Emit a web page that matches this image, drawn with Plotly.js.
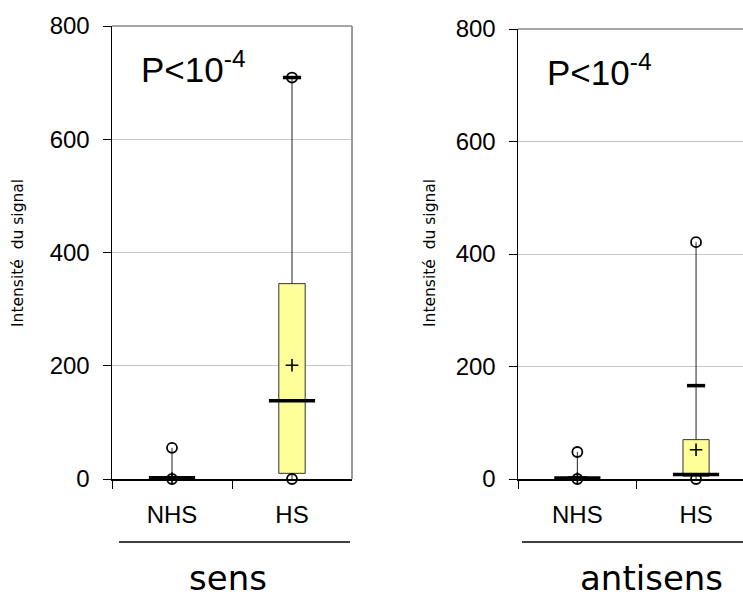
<!DOCTYPE html>
<html>
<head>
<meta charset="utf-8">
<script src="https://cdn.plot.ly/plotly-3.0.1.min.js"></script>
<style>html,body{margin:0;padding:0;background:#fff;}#chart{width:743px;height:596px;}</style>
</head>
<body>
<div id="chart"></div>
<script>
// ---- data ----
const categories = ['NHS', 'HS'];

// panel "sens"
const sensMin = [0, 0];
const sensQ1 = [0, 10];
const sensMedian = [2, 138];
const sensQ3 = [3, 345];
const sensMean = [1, 201];
const sensWhiskerHigh = [2, 709];
const sensMax = [55, 709];

// panel "antisens"
const antiMin = [0, 0];
const antiQ1 = [0, 5];
const antiMedian = [2, 8];
const antiQ3 = [3, 70];
const antiMean = [1, 52];
const antiWhiskerHigh = [2, 166];
const antiMax = [48, 421];

const yTicks = [0, 200, 400, 600, 800];
const panelTitles = ['sens', 'antisens'];
const pText = 'P<10<sup>-4</sup>';
const yTitle = 'Intensité\u00a0\u00a0du signal';

// ---- build ----
const W = 743, H = 596;
const tickFont = {family: 'Arial, "Liberation Sans", sans-serif', size: 24, color: '#000'};
const verd = '"DejaVu Sans", Verdana, sans-serif';

function panelTraces(mn, q1, med, q3, mean, wh, mx, xa, ya) {
  const segX = [], segY = [];
  categories.forEach((c, i) => {
    segX.push(c, c, null, c, c, null);
    segY.push(mn[i], q1[i], null, q3[i], mx[i], null);
  });
  return [
    {type: 'bar', x: categories, base: q1, y: q3.map((v, i) => v - q1[i]), width: 0.22,
     marker: {color: '#FFFF99', line: {color: '#333', width: 1}}, xaxis: xa, yaxis: ya, hoverinfo: 'skip'},
    {type: 'scatter', mode: 'lines', x: segX, y: segY, line: {color: '#222', width: 1},
     xaxis: xa, yaxis: ya, cliponaxis: false, hoverinfo: 'skip'},
    {type: 'scatter', mode: 'markers', x: categories, y: mn,
     marker: {symbol: 'circle-open', size: 10, color: '#000', line: {width: 1.8, color: '#000'}},
     xaxis: xa, yaxis: ya, cliponaxis: false},
    {type: 'scatter', mode: 'markers', x: categories, y: mx,
     marker: {symbol: 'circle-open', size: 10, color: '#000', line: {width: 1.8, color: '#000'}},
     xaxis: xa, yaxis: ya, cliponaxis: false},
    {type: 'scatter', mode: 'markers', x: categories, y: med,
     marker: {symbol: 'line-ew', size: 33, color: '#000', line: {width: 3.5, color: '#000'}},
     xaxis: xa, yaxis: ya, cliponaxis: false},
    {type: 'scatter', mode: 'markers', x: categories, y: wh,
     marker: {symbol: 'line-ew', size: 13, color: '#000', line: {width: 3.5, color: '#000'}},
     xaxis: xa, yaxis: ya, cliponaxis: false},
    {type: 'scatter', mode: 'markers', x: categories, y: mean,
     marker: {symbol: 'cross-thin-open', size: 9, color: '#000', line: {width: 1.6, color: '#000'}},
     xaxis: xa, yaxis: ya, cliponaxis: false}
  ];
}

const data = [].concat(
  panelTraces(sensMin, sensQ1, sensMedian, sensQ3, sensMean, sensWhiskerHigh, sensMax, 'x', 'y'),
  panelTraces(antiMin, antiQ1, antiMedian, antiQ3, antiMean, antiWhiskerHigh, antiMax, 'x2', 'y2')
);

function xax(domain, range, anchor) {
  return {domain: domain, range: range, type: 'category', anchor: anchor,
    tickson: 'boundaries', ticks: 'outside', ticklen: 8, tickwidth: 1, tickcolor: '#000',
    showline: true, linecolor: '#000', linewidth: 1.5, showgrid: false, zeroline: false,
    tickfont: tickFont, ticklabelstandoff: 14, fixedrange: true};
}
function yax(domain, anchor) {
  return {domain: domain, range: [0, 800], anchor: anchor, tickvals: yTicks,
    ticks: 'outside', ticklen: 8, tickwidth: 1, tickcolor: '#000',
    showline: true, linecolor: '#000', linewidth: 1.5, showgrid: true, gridcolor: '#c8c8c8', gridwidth: 1,
    zeroline: false, tickfont: tickFont, ticklabelstandoff: 8, fixedrange: true};
}

const layout = {
  width: W, height: H,
  margin: {l: 0, r: 0, t: 0, b: 0},
  paper_bgcolor: '#fff', plot_bgcolor: '#fff',
  showlegend: false, hovermode: false, barmode: 'overlay',
  xaxis: xax([112 / W, 352 / W], [-0.5, 1.5], 'y'),
  yaxis: yax([(H - 479) / H, (H - 26) / H], 'x'),
  xaxis2: xax([518 / W, 1], [-0.5, -0.5 + 225 / 118.7], 'y2'),
  yaxis2: yax([(H - 479) / H, (H - 29) / H], 'x2'),
  shapes: [
    {type: 'line', xref: 'x domain', yref: 'y domain', x0: 0, x1: 1, y0: 1, y1: 1, line: {color: '#888', width: 1.5}},
    {type: 'line', xref: 'x domain', yref: 'y domain', x0: 1, x1: 1, y0: 0, y1: 1, line: {color: '#999', width: 2}},
    {type: 'line', xref: 'x2 domain', yref: 'y2 domain', x0: 0, x1: 1, y0: 1, y1: 1, line: {color: '#888', width: 1.5}},
    {type: 'line', xref: 'paper', yref: 'paper', x0: 119 / W, x1: 350 / W, y0: (H - 542) / H, y1: (H - 542) / H, line: {color: '#000', width: 1.5}},
    {type: 'line', xref: 'paper', yref: 'paper', x0: 522 / W, x1: 1, y0: (H - 542) / H, y1: (H - 542) / H, line: {color: '#000', width: 1.5}}
  ],
  annotations: [
    {text: pText, xref: 'paper', yref: 'paper', x: 139 / W, y: (H - 67) / H, xanchor: 'left', yanchor: 'middle',
     showarrow: false, font: {family: 'Arial, "Liberation Sans", sans-serif', size: 35, color: '#000'}},
    {text: pText, xref: 'paper', yref: 'paper', x: 545 / W, y: (H - 70) / H, xanchor: 'left', yanchor: 'middle',
     showarrow: false, font: {family: 'Arial, "Liberation Sans", sans-serif', size: 35, color: '#000'}},
    {text: yTitle, xref: 'paper', yref: 'paper', x: 18 / W, y: (H - 253) / H, xanchor: 'center', yanchor: 'middle',
     textangle: -90, showarrow: false, font: {family: verd, size: 15.5, color: '#000'}},
    {text: yTitle, xref: 'paper', yref: 'paper', x: 430 / W, y: (H - 253) / H, xanchor: 'center', yanchor: 'middle',
     textangle: -90, showarrow: false, font: {family: verd, size: 15.5, color: '#000'}},
    {text: panelTitles[0], xref: 'paper', yref: 'paper', x: 228 / W, y: (H - 578) / H, xanchor: 'center', yanchor: 'middle',
     showarrow: false, font: {family: verd, size: 34, color: '#000'}},
    {text: panelTitles[1], xref: 'paper', yref: 'paper', x: 651 / W, y: (H - 578) / H, xanchor: 'center', yanchor: 'middle',
     showarrow: false, font: {family: verd, size: 34, color: '#000'}}
  ]
};

Plotly.newPlot('chart', data, layout, {staticPlot: true, displayModeBar: false});
</script>
</body>
</html>
